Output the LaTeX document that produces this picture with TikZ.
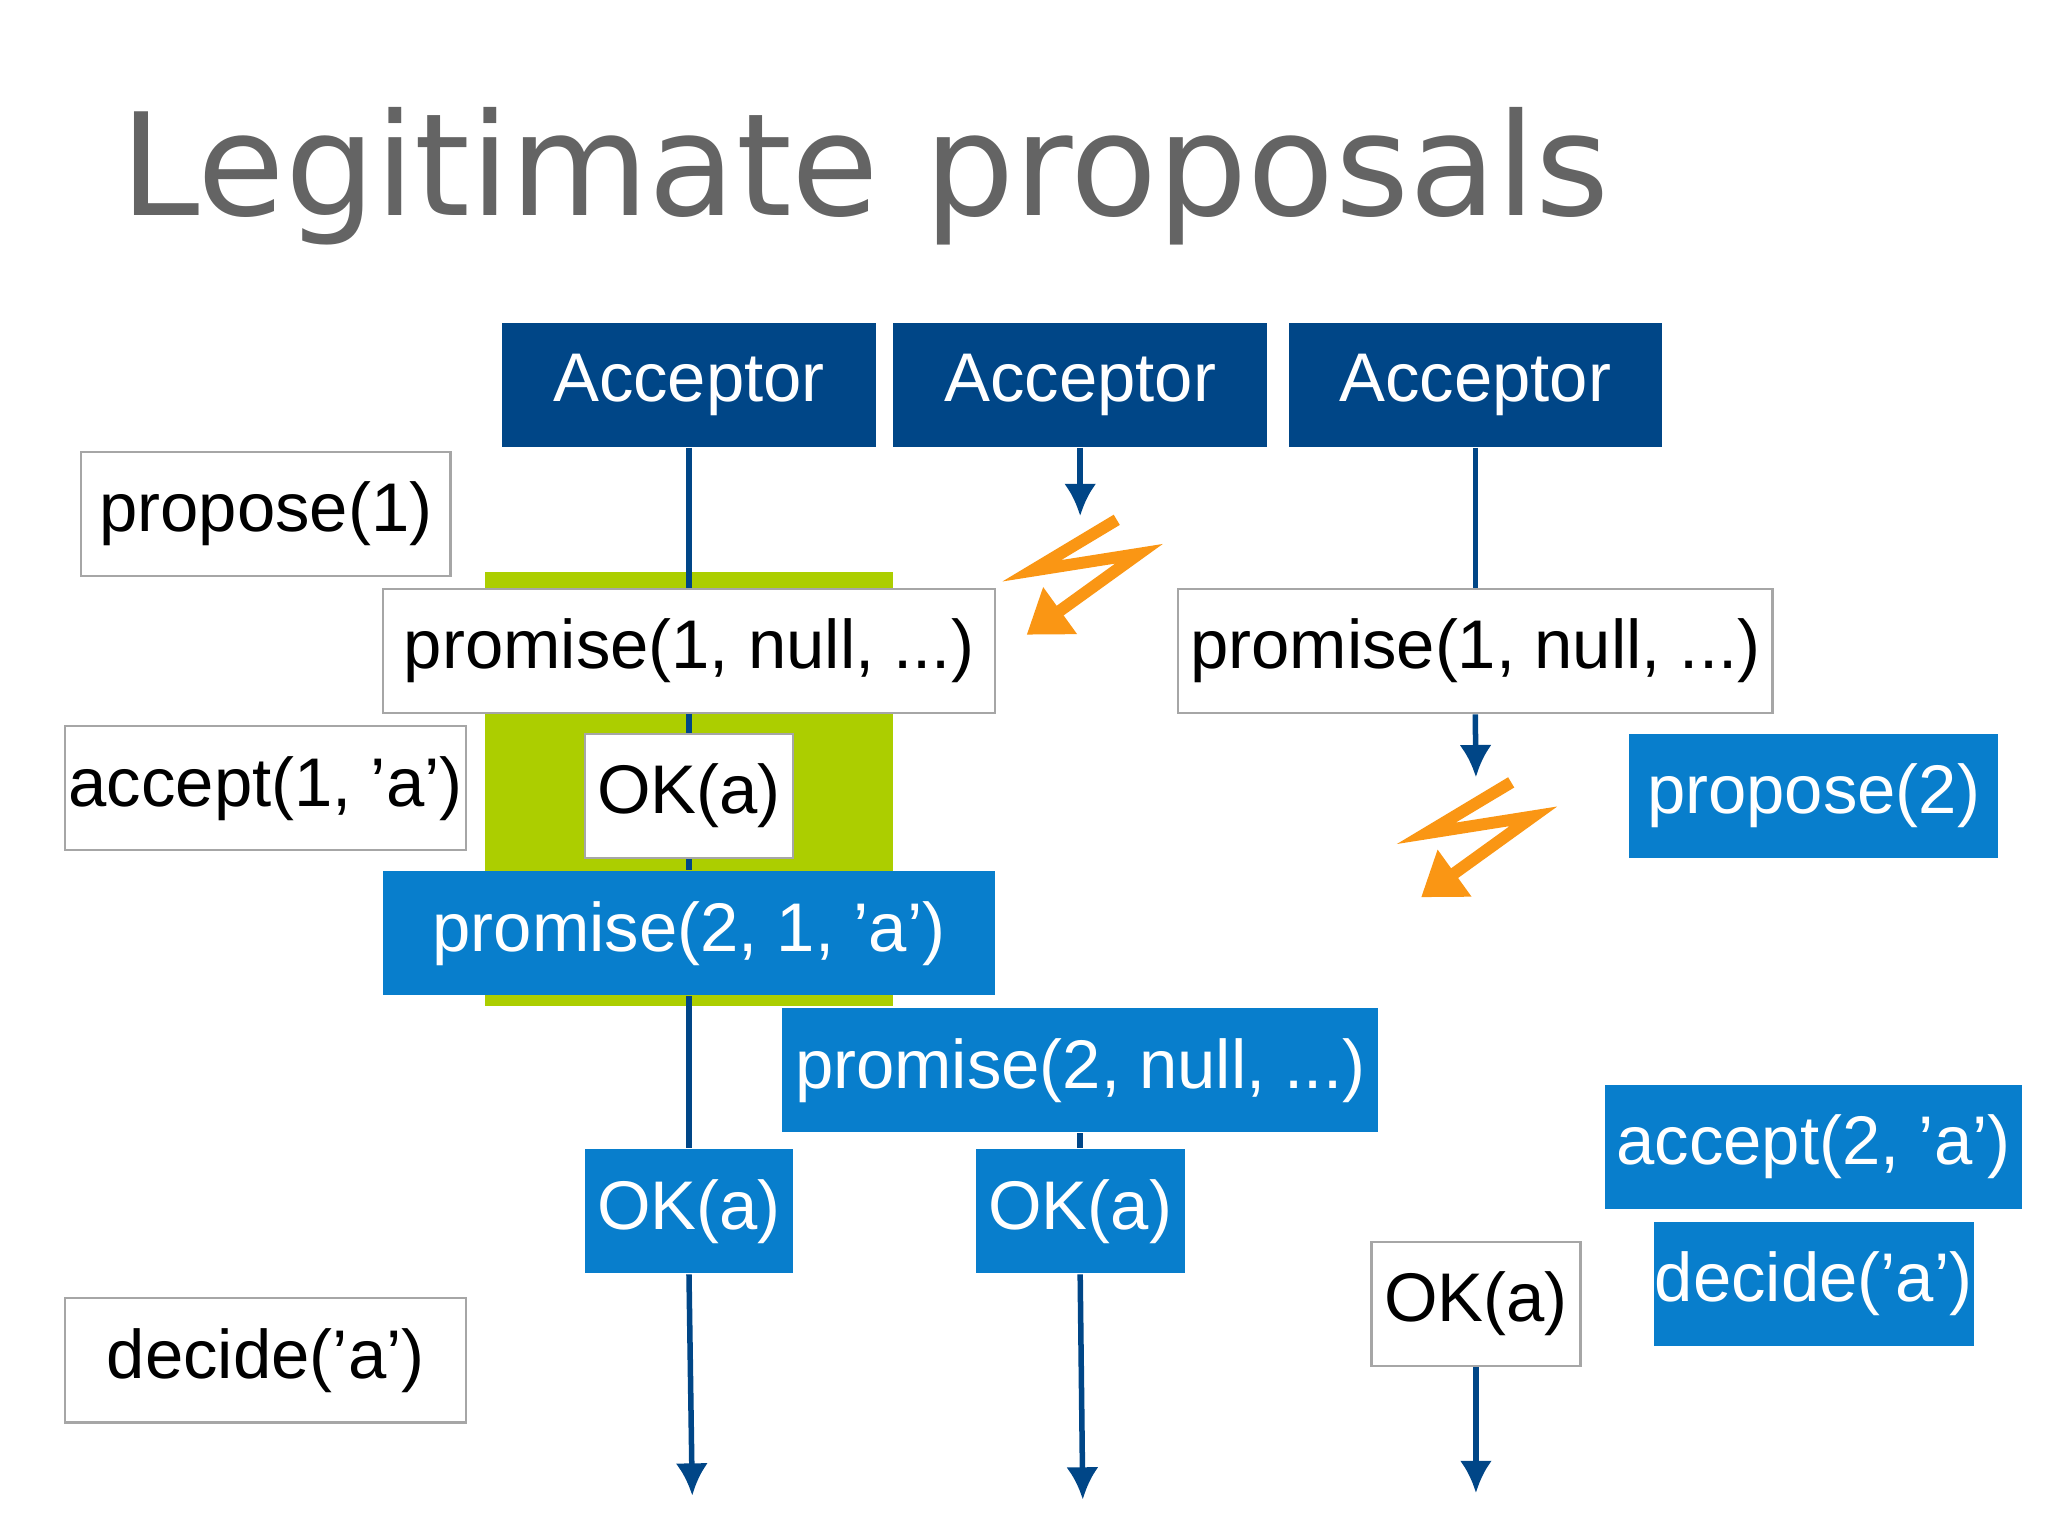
\documentclass[tikz,border=0pt]{standalone}
\usepackage{fontspec}
\setmainfont{Liberation Sans}
\newfontfamily\titlefont{DejaVu Sans}
\usetikzlibrary{arrows.meta}
\definecolor{dblue}{RGB}{0,70,135}
\definecolor{mblue}{RGB}{8,126,204}
\definecolor{lgreen}{RGB}{172,206,0}
\definecolor{bolt}{RGB}{250,150,20}
\definecolor{tgray}{RGB}{100,100,100}
\tikzset{
 base/.style={inner sep=0pt,font=\fontsize{15}{18}\selectfont,minimum height=0.95cm},
 acc/.style={base,fill=dblue,text=white,minimum width=2.86cm},
 wbox/.style={base,fill=white,draw=gray!70,line width=0.5pt,text=black},
 bbox/.style={base,fill=mblue,text=white},
 life/.style={draw=dblue,line width=1.2pt},
 lifea/.style={life,-{Latex[length=7pt,width=7pt]}},
 boltl/.style={draw=bolt,line width=2.6pt,line join=miter,-{Triangle[length=9pt,width=12pt]}}
}
\begin{document}
\begin{tikzpicture}[x=1cm,y=-1cm]
\useasboundingbox (0,0) rectangle (15.68,11.76);
\node[anchor=base west,text=tgray,font=\titlefont\fontsize{31}{36}\selectfont] (title) at (0.8,1.65) {Legitimate proposals};
\fill[lgreen] (3.71,4.38) rectangle (6.84,7.70);
% acceptors
\node[acc] (a1) at (5.275,2.945) {Acceptor};
\node[acc] (a2) at (8.27,2.945) {Acceptor};
\node[acc] (a3) at (11.295,2.945) {Acceptor};
% end coordinates
\coordinate (e1) at (5.30,11.45);
\coordinate (e2) at (8.29,11.48);
\coordinate (e3) at (11.30,11.43);
\coordinate (s2) at (8.27,3.95);
\coordinate (s3) at (11.30,5.95);
% boxes
\node[wbox,minimum width=2.83cm] (p1) at (2.035,3.935) {propose(1)};
\node[wbox,minimum width=4.69cm] (pr1) at (5.275,4.985) {promise(1, null, ...)};
\node[wbox,minimum width=4.55cm] (pr1r) at (11.295,4.985) {promise(1, null, ...)};
\node[wbox,minimum width=3.07cm] (ac1) at (2.035,6.035) {accept(1, 'a')};
\node[wbox,minimum width=1.59cm] (ok1) at (5.275,6.095) {OK(a)};
\node[bbox,minimum width=4.69cm] (pr2) at (5.275,7.145) {promise(2, 1, 'a')};
\node[bbox,minimum width=4.56cm] (pr2n) at (8.27,8.195) {promise(2, null, ...)};
\node[bbox,minimum width=1.59cm] (ok2) at (5.275,9.275) {OK(a)};
\node[bbox,minimum width=1.60cm] (ok3) at (8.27,9.275) {OK(a)};
\node[bbox,minimum width=2.83cm] (p2) at (13.885,6.095) {propose(2)};
\node[bbox,minimum width=3.19cm] (ac2) at (13.885,8.78) {accept(2, 'a')};
\node[bbox,minimum width=2.45cm] (d2) at (13.885,9.83) {decide('a')};
\node[wbox,minimum width=1.60cm] (ok4) at (11.30,9.985) {OK(a)};
\node[wbox,minimum width=3.07cm] (d1) at (2.035,10.415) {decide('a')};
% lifelines
\begin{scope}[on background layer/.style={}]
\end{scope}
\draw[lifea] (ok2.south) -- (e1);
\draw[lifea] (a2.south) -- (s2);
\draw[lifea] (ok3.south) -- (e2);
\draw[life] (pr2n.south) -- (ok3.north);
\draw[life] (a3.south) -- (pr1r.north);
\draw[lifea] (pr1r.south) -- (s3);
\draw[lifea] (ok4.south) -- (e3);
% acceptor 1 lifeline segments (behind boxes drawn via short segments)
\draw[life] (a1.south) -- (pr1.north);
\draw[life] (pr1.south) -- (ok1.north);
\draw[life] (ok1.south) -- (pr2.north);
\draw[life] (pr2.south) -- (ok2.north);
% bolts
\draw[boltl] (8.55,3.98) -- (7.9,4.37) -- (8.72,4.24) -- (7.86,4.86);
\draw[boltl] (11.57,5.99) -- (10.92,6.38) -- (11.74,6.25) -- (10.88,6.87);
\end{tikzpicture}
\end{document}
